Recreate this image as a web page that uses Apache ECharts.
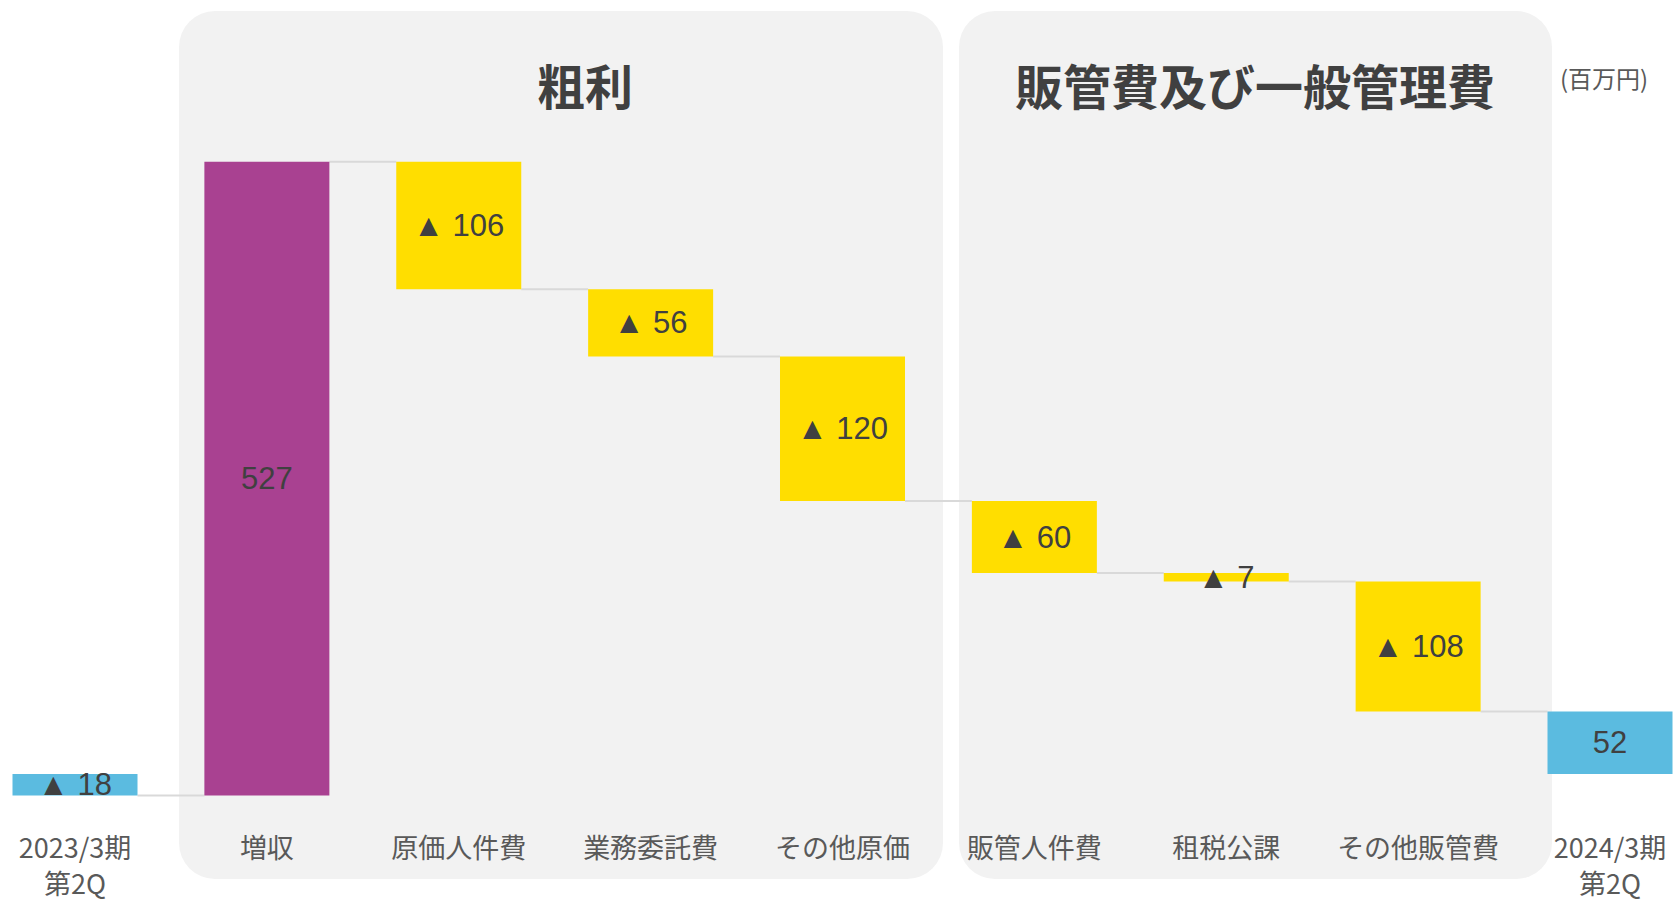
<!DOCTYPE html>
<html>
<head>
<meta charset="utf-8">
<script src="https://cdn.jsdelivr.net/npm/echarts@6/dist/echarts.min.js"></script>
<style>
html,body{margin:0;padding:0;background:#fff;}
#chart{width:1675px;height:900px;}
</style>
</head>
<body>
<div id="chart"></div>
<script>
// ---- data ----
var categories = ['2023/3期\n第2Q', '増収', '原価人件費', '業務委託費', 'その他原価', '販管人件費', '租税公課', 'その他販管費', '2024/3期\n第2Q'];
var values = [-18, 527, -106, -56, -120, -60, -7, -108, 52];
var groupTitles = ['粗利', '販管費及び一般管理費'];
var unitLabel = '(百万円)';

// ---- build waterfall table ----
var rows = [];
var level = 0;
for (var i = 0; i < values.length; i++) {
  var v = values[i];
  var isTotal = (i === 0 || i === values.length - 1);
  var lo, hi, after;
  if (isTotal) {
    lo = Math.min(0, v); hi = Math.max(0, v); after = v;
  } else {
    lo = Math.min(level, level + v); hi = Math.max(level, level + v); after = level + v;
  }
  var label = v < 0 ? '▲ ' + Math.abs(v) : String(v);
  var kind = isTotal ? 0 : (v >= 0 ? 1 : 2);
  rows.push([i, lo, hi, after, kind, label]);
  level = after;
}

var kindColors = ['#5bbbe0', '#a94191', '#ffde00'];
var BAR_W = 125;

var chart = echarts.init(document.getElementById('chart'), null, {renderer: 'svg'});
var option = {
  animation: false,
  backgroundColor: '#ffffff',
  grid: {left: 75, right: 65, top: 28.25, bottom: 95.75},
  xAxis: {
    type: 'category',
    data: categories,
    boundaryGap: false,
    axisLine: {show: false, onZero: false},
    axisTick: {show: false},
    splitLine: {show: false},
    axisLabel: {
      interval: 0,
      margin: 30,
      fontSize: 27,
      lineHeight: 36,
      color: '#595959',
      fontFamily: '"Noto Sans CJK JP", "Noto Sans", sans-serif',
      verticalAlign: 'top'
    }
  },
  yAxis: {
    type: 'value',
    min: -20,
    max: 620,
    show: false
  },
  graphic: [
    {type: 'rect', z: -10, shape: {x: 179, y: 11, width: 764, height: 868, r: 36}, style: {fill: '#f2f2f2'}},
    {type: 'rect', z: -10, shape: {x: 959, y: 11, width: 593, height: 868, r: 36}, style: {fill: '#f2f2f2'}},
    {type: 'text', z: 5, style: {text: groupTitles[0], x: 585, y: 84, textAlign: 'center', textVerticalAlign: 'middle', align: 'center', verticalAlign: 'middle', fill: '#404040', font: 'bold 48px "Noto Sans CJK JP", sans-serif'}},
    {type: 'text', z: 5, style: {text: groupTitles[1], x: 1255, y: 84, textAlign: 'center', textVerticalAlign: 'middle', align: 'center', verticalAlign: 'middle', fill: '#404040', font: 'bold 48px "Noto Sans CJK JP", sans-serif'}},
    {type: 'text', z: 5, style: {text: unitLabel, x: 1560, y: 77, textAlign: 'left', textVerticalAlign: 'middle', align: 'left', verticalAlign: 'middle', fill: '#595959', font: '24px "Noto Sans CJK JP", sans-serif'}}
  ],
  series: [{
    type: 'custom',
    data: rows,
    encode: {x: 0, y: [1, 2]},
    renderItem: function (params, api) {
      var idx = api.value(0);
      var lo = api.value(1), hi = api.value(2), after = api.value(3);
      var kind = api.value(4);
      var r = rows[idx];
      var pTop = api.coord([idx, hi]);
      var pBot = api.coord([idx, lo]);
      var cx = pTop[0];
      var children = [];
      if (idx < rows.length - 1) {
        var pNext = api.coord([idx + 1, after]);
        var pCur = api.coord([idx, after]);
        children.push({
          type: 'line',
          shape: {x1: cx + BAR_W / 2, y1: pCur[1], x2: pNext[0] - BAR_W / 2, y2: pNext[1]},
          style: {stroke: '#d9d9d9', lineWidth: 2}
        });
      }
      children.push({
        type: 'rect',
        shape: {x: cx - BAR_W / 2, y: pTop[1], width: BAR_W, height: Math.max(pBot[1] - pTop[1], 1)},
        style: {fill: kindColors[kind]}
      });
      children.push({
        type: 'text',
        style: {
          text: r[5], x: cx, y: (pTop[1] + pBot[1]) / 2,
          textAlign: 'center', textVerticalAlign: 'middle', align: 'center', verticalAlign: 'middle',
          fill: '#404040', font: '31px "Liberation Sans", Arial, "DejaVu Sans", sans-serif'
        }
      });
      return {type: 'group', children: children};
    }
  }]
};
chart.setOption(option);
</script>
</body>
</html>
